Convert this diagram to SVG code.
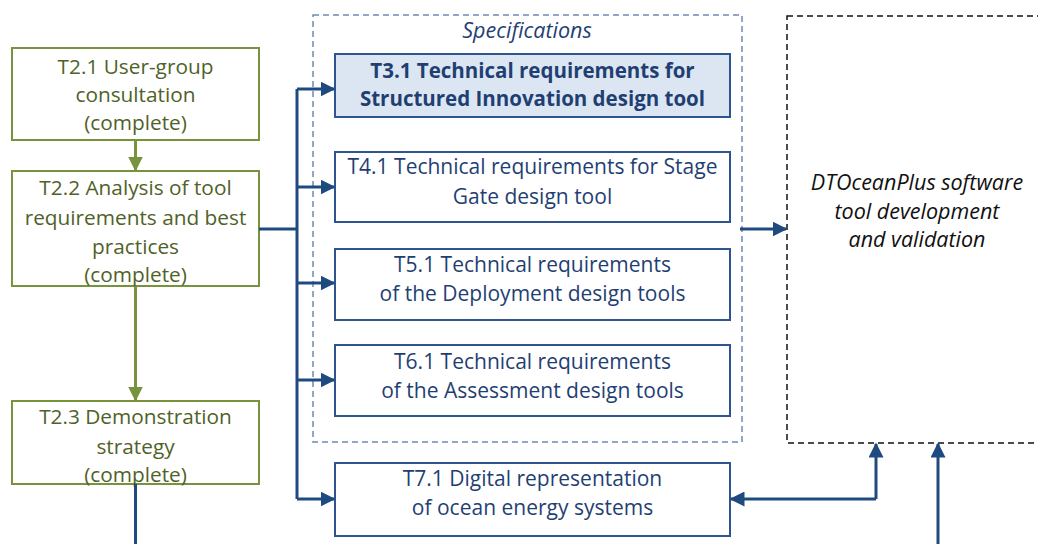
<svg xmlns="http://www.w3.org/2000/svg" width="1038" height="544" viewBox="0 0 1038 544">
<style>
.gbox{fill:#fff;stroke:#77933C;stroke-width:2}
.bbox{fill:#fff;stroke:#2E5590;stroke-width:2}
.hl{fill:#DCE6F2}
.gt{font-family:"Open Sans",sans-serif;font-size:20.8px;fill:#4F6228;text-anchor:middle}
.bt{font-family:"Open Sans",sans-serif;font-size:21px;fill:#1F3F73;text-anchor:middle}
.bold{font-weight:bold;font-size:20.5px}
.it{font-family:"Open Sans",sans-serif;font-size:21.5px;font-style:italic;fill:#111;text-anchor:middle}
.sp{fill:#1F3F73}
.gl{fill:none;stroke:#77933C;stroke-width:3}
.bl{fill:none;stroke:#1F4A80;stroke-width:3}
</style>
<defs>
<marker id="ga" markerWidth="5" markerHeight="5" refX="4.5" refY="2.5" orient="auto" markerUnits="strokeWidth"><path d="M0,0 L5,2.5 L0,5 z" fill="#77933C"/></marker>
<marker id="ba" markerWidth="5" markerHeight="5" refX="4.5" refY="2.5" orient="auto" markerUnits="strokeWidth"><path d="M0,0 L5,2.5 L0,5 z" fill="#1F4A80"/></marker>
</defs>
<g id="specifications">
<rect x="313" y="15" width="429" height="427" fill="none" stroke="#6F8AB3" stroke-width="1.5" stroke-dasharray="6,4"/>
<text x="527" y="38" class="it sp">Specifications</text>
</g>
<g id="dtoceanplus">
<rect x="787" y="16" width="260" height="427" fill="none" stroke="#111" stroke-width="1.5" stroke-dasharray="6,4"/>
<text x="917" y="190" class="it">DTOceanPlus software</text>
<text x="917" y="219" class="it">tool development</text>
<text x="917" y="247" class="it">and validation</text>
</g>
<g id="t21">
<rect x="12" y="48" width="247" height="92" class="gbox"/>
<text x="135.5" y="74" class="gt">T2.1 User-group</text>
<text x="135.5" y="102" class="gt">consultation</text>
<text x="135.5" y="130" class="gt">(complete)</text>
</g>
<g id="t22">
<rect x="12" y="171" width="247" height="115" class="gbox"/>
<text x="135.5" y="195" class="gt">T2.2 Analysis of tool</text>
<text x="135.5" y="225" class="gt">requirements and best</text>
<text x="135.5" y="254" class="gt">practices</text>
<text x="135.5" y="282" class="gt">(complete)</text>
</g>
<g id="t23">
<rect x="12" y="401" width="247" height="83" class="gbox"/>
<text x="135.5" y="424" class="gt">T2.3 Demonstration</text>
<text x="135.5" y="454" class="gt">strategy</text>
<text x="135.5" y="482" class="gt">(complete)</text>
</g>
<g id="t31">
<rect x="335" y="54" width="395" height="63" class="bbox hl"/>
<text x="532.5" y="78" class="bt bold">T3.1 Technical requirements for</text>
<text x="532.5" y="106" class="bt bold">Structured Innovation design tool</text>
</g>
<g id="t41">
<rect x="335" y="152" width="395" height="70" class="bbox"/>
<text x="532.5" y="174" class="bt">T4.1 Technical requirements for Stage</text>
<text x="532.5" y="204" class="bt">Gate design tool</text>
</g>
<g id="t51">
<rect x="335" y="249" width="395" height="71" class="bbox"/>
<text x="532.5" y="272" class="bt">T5.1 Technical requirements</text>
<text x="532.5" y="301" class="bt">of the Deployment design tools</text>
</g>
<g id="t61">
<rect x="335" y="345" width="395" height="71" class="bbox"/>
<text x="532.5" y="369" class="bt">T6.1 Technical requirements</text>
<text x="532.5" y="398" class="bt">of the Assessment design tools</text>
</g>
<g id="t71">
<rect x="335" y="463" width="395" height="73" class="bbox"/>
<text x="532.5" y="486" class="bt">T7.1 Digital representation</text>
<text x="532.5" y="515" class="bt">of ocean energy systems</text>
</g>
<g id="connectors">
<path d="M135.5,140 V170" class="gl" marker-end="url(#ga)"/>
<path d="M135.5,286 V400" class="gl" marker-end="url(#ga)"/>
<path d="M259,229 H297" class="bl"/>
<path d="M297,89 V499" class="bl"/>
<path d="M297,89 H334" class="bl" marker-end="url(#ba)"/>
<path d="M297,187 H334" class="bl" marker-end="url(#ba)"/>
<path d="M297,283 H334" class="bl" marker-end="url(#ba)"/>
<path d="M297,380 H334" class="bl" marker-end="url(#ba)"/>
<path d="M297,499 H334" class="bl" marker-end="url(#ba)"/>
<path d="M740,229 H786" class="bl" marker-end="url(#ba)"/>
<path d="M876,499 H731" class="bl" marker-end="url(#ba)"/>
<path d="M876,499 V444" class="bl" marker-end="url(#ba)"/>
<path d="M938,544 V444" class="bl" marker-end="url(#ba)"/>
<path d="M135.5,484 V544" class="bl"/>
</g>
</svg>
